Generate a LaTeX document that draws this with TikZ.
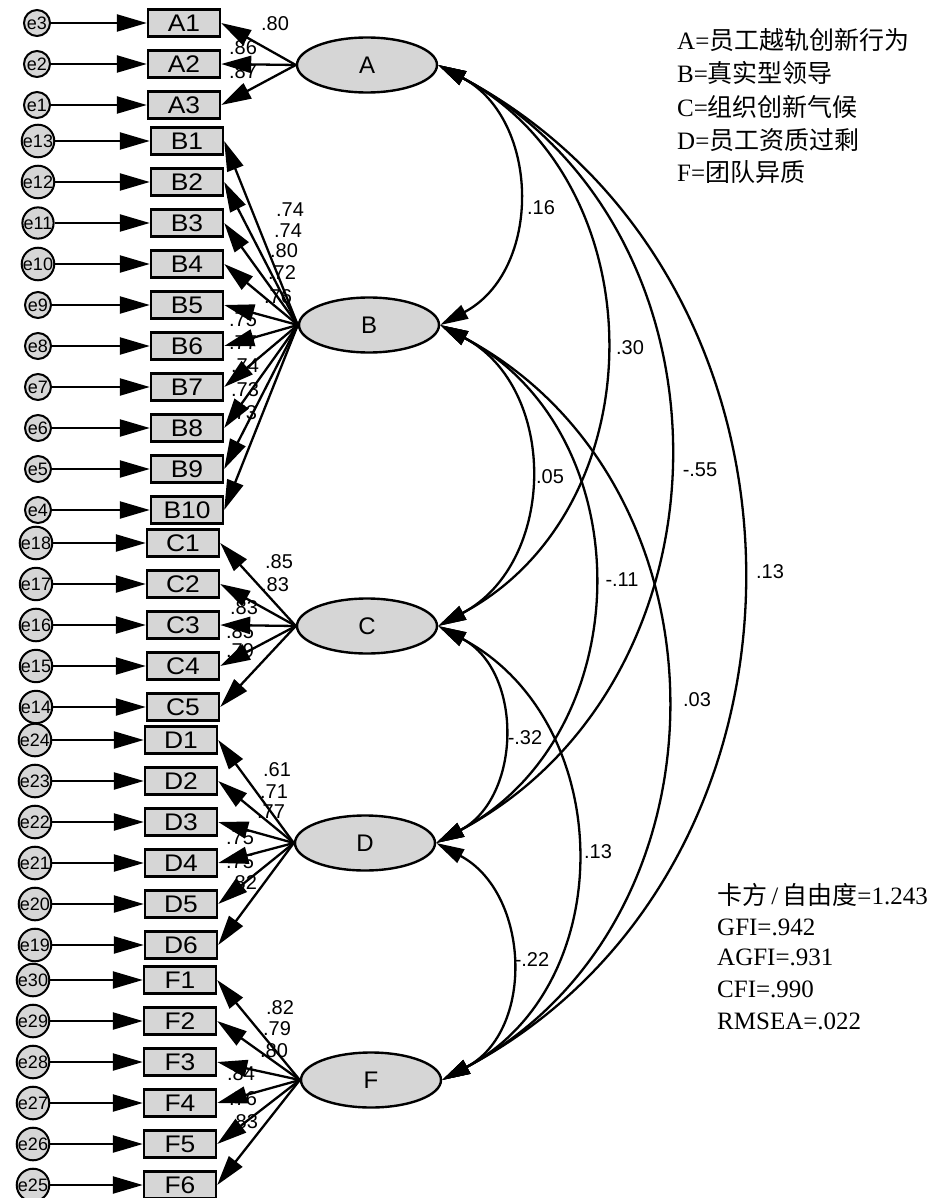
\documentclass[tikz,border=0pt]{standalone}
\usepackage{fontspec}
\setmainfont{Liberation Sans}
\newfontfamily\boxf[FakeStretch=1.1]{Liberation Sans}
\newfontfamily\cjk{Noto Sans CJK SC}
\newfontfamily\serifl{Liberation Serif}
\usetikzlibrary{shapes.geometric,arrows.meta}
\definecolor{boxgray}{HTML}{D6D6D6}
\begin{document}
\begin{tikzpicture}[x=1pt,y=-1pt,
  obs/.style={draw=black,line width=2.4pt,fill=boxgray,minimum width=72pt,minimum height=27pt,inner sep=0pt,font=\boxf\fontsize{24}{24}\selectfont},
  lat/.style={ellipse,draw=black,line width=2.4pt,fill=boxgray,minimum width=140pt,minimum height=55pt,inner sep=0pt,font=\fontsize{24}{24}\selectfont},
  err/.style={circle,draw=black,line width=2pt,fill=boxgray,minimum size=26pt,inner sep=0pt,font=\fontsize{18}{18}\selectfont},
  arr/.style={line width=2.3pt,-{Triangle[length=30pt,width=17pt]}},
  cov/.style={line width=2.3pt,{Triangle[length=28pt,width=15pt]}-{Triangle[length=28pt,width=15pt]}},
  lbl/.style={font=\fontsize{20}{20}\selectfont,inner sep=0pt},
  leg/.style={anchor=west,inner sep=0pt,font=\fontsize{25}{25}\selectfont}
]
\useasboundingbox[fill=white] (0,0) rectangle (945,1198);

% latent variables
\node[lat] (A) at (367,65) {A};
\node[lat] (B) at (369,325) {B};
\node[lat] (C) at (367,626) {C};
\node[lat] (D) at (365,843) {D};
\node[lat] (F) at (371,1080) {F};

% observed variables and errors
\foreach \n/\y/\e in {A1/23/e3,A2/64/e2,A3/105/e1}{
  \node[obs] (\n) at (184,\y) {\n};
  \node[err] (e\n) at (37,\y) {\e};}
\foreach \n/\y/\e in {B1/141/e13,B2/182/e12,B3/223/e11,B4/264/e10,B5/305/e9,B6/346/e8,B7/387/e7,B8/428/e6,B9/469/e5,B10/510/e4}{
  \node[obs] (\n) at (187,\y) {\n};
  \node[err] (e\n) at (38,\y) {\e};}
\foreach \n/\y/\e in {C1/543/e18,C2/584/e17,C3/625/e16,C4/666/e15,C5/707/e14}{
  \node[obs] (\n) at (183,\y) {\n};
  \node[err] (e\n) at (36,\y) {\e};}
\foreach \n/\y/\e in {D1/740/e24,D2/781/e23,D3/822/e22,D4/863/e21,D5/904/e20,D6/945/e19}{
  \node[obs] (\n) at (181,\y) {\n};
  \node[err] (e\n) at (35,\y) {\e};}
\foreach \n/\y/\e in {F1/980/e30,F2/1021/e29,F3/1062/e28,F4/1103/e27,F5/1144/e26,F6/1185/e25}{
  \node[obs] (\n) at (180,\y) {\n};
  \node[err] (e\n) at (33,\y) {\e};}

% loading labels (drawn before the arrows)
\foreach \x/\y/\t [count=\i] in {275/24/.80,243/48/.86,243/72/.87,
  290/210/.74,288/231/.74,284/251/.80,282/273/.72,278/297/.76,243/320/.75,243/343/.77,245/366/.74,245/390/.73,243/413/.73,
  279/562/.85,275/585/.83,244/608/.83,240/632/.85,240/651/.79,
  277/770/.61,274/792/.71,271/812/.77,240/838/.75,240/862/.75,243/883/.82,
  280/1008/.82,277/1029/.79,274/1051/.80,241/1074/.84,243/1099/.76,244/1122/.83}
  \node[lbl] (ld\i) at (\x,\y) {\t};

% error arrows
\foreach \n in {A1,A2,A3,B1,B2,B3,B4,B5,B6,B7,B8,B9,B10,C1,C2,C3,C4,C5,D1,D2,D3,D4,D5,D6,F1,F2,F3,F4,F5,F6}
  \draw[arr] (e\n) -- (\n);

% loadings
\foreach \n in {A1,A2,A3} \draw[arr] (A.west) -- (\n.east);
\foreach \n in {B1,B2,B3,B4,B5,B6,B7,B8,B9,B10} \draw[arr] (B.west) -- (\n.east);
\foreach \n in {C1,C2,C3,C4,C5} \draw[arr] (C.west) -- (\n.east);
\foreach \n in {D1,D2,D3,D4,D5,D6} \draw[arr] (D.west) -- (\n.east);
\foreach \n in {F1,F2,F3,F4,F5,F6} \draw[arr] (F.west) -- (\n.east);

% covariances
\foreach \p/\q in {A/B,A/C,A/D,A/F,B/C,B/D,B/F,C/D,C/F,D/F}
  \draw[cov] (\p.east) to[out=-28,in=28,looseness=1.14] (\q.east);

\node[lbl] (cAB) at (541,208) {.16};
\node[lbl] (cAC) at (630,348) {.30};
\node[lbl] (cAD) at (700,470) {-.55};
\node[lbl] (cAF) at (770,572) {.13};
\node[lbl] (cBC) at (550,477) {.05};
\node[lbl] (cBD) at (622,580) {-.11};
\node[lbl] (cBF) at (697,700) {.03};
\node[lbl] (cCD) at (525,738) {-.32};
\node[lbl] (cCF) at (598,852) {.13};
\node[lbl] (cDF) at (532,960) {-.22};

% legend
\node[leg] (l1) at (677,40) {\serifl A=\cjk 员工越轨创新行为};
\node[leg] (l2) at (677,73) {\serifl B=\cjk 真实型领导};
\node[leg] (l3) at (677,107) {\serifl C=\cjk 组织创新气候};
\node[leg] (l4) at (677,140) {\serifl D=\cjk 员工资质过剩};
\node[leg] (l5) at (677,172) {\serifl F=\cjk 团队异质};

% fit indices
\node[leg] (s1) at (717,895) {\cjk 卡方\serifl\,/\,\cjk 自由度\serifl=1.243};
\node[leg] (s2) at (717,927) {\serifl GFI=.942};
\node[leg] (s3) at (717,957) {\serifl AGFI=.931};
\node[leg] (s4) at (717,989) {\serifl CFI=.990};
\node[leg] (s5) at (717,1021) {\serifl RMSEA=.022};
\end{tikzpicture}
\end{document}
